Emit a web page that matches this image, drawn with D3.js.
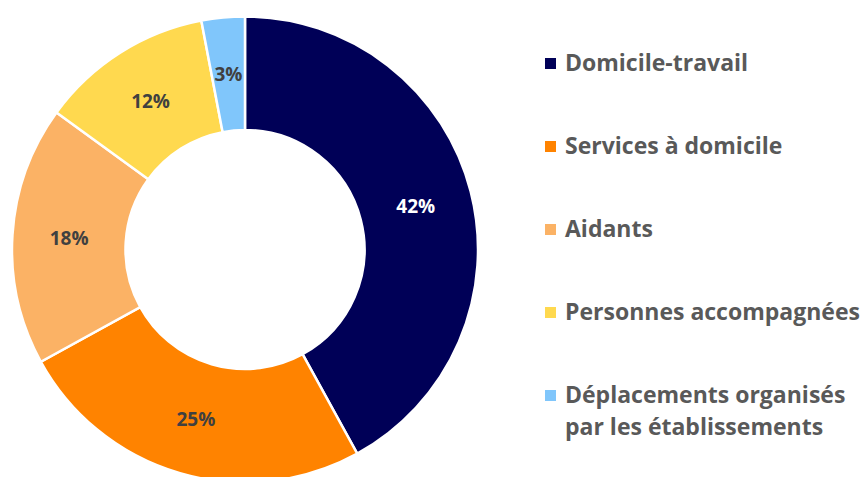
<!DOCTYPE html>
<html>
<head>
<meta charset="utf-8">
<script src="https://cdn.jsdelivr.net/npm/d3@7"></script>
<style>
  html, body { margin: 0; padding: 0; background: #ffffff; overflow: hidden; }
  svg { display: block; }
</style>
</head>
<body>
<svg id="chart" width="864" height="477"></svg>
<script>
// Répartition des trajets par motif
const categories = [
  "Domicile-travail",
  "Services à domicile",
  "Aidants",
  "Personnes accompagnées",
  "Déplacements organisés par les établissements"
];
const legendLines = [
  ["Domicile-travail"],
  ["Services à domicile"],
  ["Aidants"],
  ["Personnes accompagnées"],
  ["Déplacements organisés", "par les établissements"]
];
const values = [42, 25, 18, 12, 3];
const colors = ["#000057", "#FF8300", "#FBB265", "#FFD94F", "#80C6FB"];
const labelColors = ["#ffffff", "#404040", "#404040", "#404040", "#404040"];

const svg = d3.select("#chart");
const font = "'Open Sans', Lato, sans-serif";

const cx = 245, cy = 249.5;
const outerR = 233, innerR = 119.5;

const pie = d3.pie().sort(null).value(d => d.value);
const data = categories.map((c, i) => ({ name: c, value: values[i], i }));
const arcs = pie(data);

const arc = d3.arc().innerRadius(innerR).outerRadius(outerR);
const labelR = (innerR + outerR) / 2;
const labelArc = d3.arc().innerRadius(labelR).outerRadius(labelR);

const g = svg.append("g").attr("transform", `translate(${cx},${cy})`);

g.selectAll("path.slice")
  .data(arcs)
  .join("path")
  .attr("class", "slice")
  .attr("d", arc)
  .attr("fill", d => colors[d.data.i])
  .attr("stroke", "#ffffff")
  .attr("stroke-width", 2.5)
  .attr("stroke-linejoin", "miter");

g.selectAll("text.pct")
  .data(arcs)
  .join("text")
  .attr("class", "pct")
  .attr("transform", d => {
    const [x, y] = labelArc.centroid(d);
    return `translate(${x},${y})`;
  })
  .attr("text-anchor", "middle")
  .attr("dy", "0.36em")
  .attr("font-family", font)
  .attr("font-weight", 700)
  .attr("font-size", 19)
  .attr("fill", d => labelColors[d.data.i])
  .text(d => d.data.value + "%");

// Légende
const legend = svg.append("g");
const rowY = d3.scalePoint().domain(d3.range(categories.length)).range([70.5, 402.5]);

const item = legend.selectAll("g.item")
  .data(legendLines)
  .join("g")
  .attr("class", "item")
  .attr("transform", (d, i) => `translate(0,${rowY(i)})`);

item.append("rect")
  .attr("x", 545)
  .attr("y", -12.5)
  .attr("width", 11)
  .attr("height", 11)
  .attr("fill", (d, i) => colors[i]);

item.append("text")
  .attr("font-family", font)
  .attr("font-weight", 700)
  .attr("font-size", 23)
  .attr("fill", "#595959")
  .selectAll("tspan")
  .data(d => d)
  .join("tspan")
  .attr("x", 565)
  .attr("y", (d, j) => j * 32)
  .text(d => d);
</script>
</body>
</html>
